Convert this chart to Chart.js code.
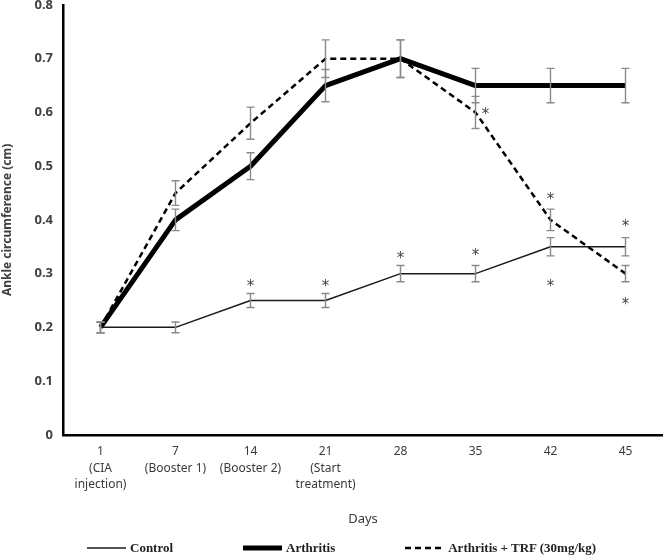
<!DOCTYPE html>
<html>
<head>
<meta charset="utf-8">
<script src="https://cdn.jsdelivr.net/npm/chart.js@4"></script>
<style>
  body { margin: 0; background: #fff; }
  .wrap { position: relative; width: 663px; height: 557px; }
  .legend { position: absolute; left: 87px; top: 540px; display: flex; gap: 70px;
            font: bold 13px "Liberation Serif", serif; color: #222; }
  .legend div { display: flex; align-items: center; gap: 4px; line-height: 16px; }
</style>
</head>
<body>
<div class="wrap">
  <canvas id="chart" width="663" height="557"></canvas>
  <div class="legend"></div>
</div>
<script>
const days = [
    ["1", "(CIA", "injection)"],
    ["7", "(Booster 1)"],
    ["14", "(Booster 2)"],
    ["21", "(Start", "treatment)"],
    "28", "35", "42", "45",
];

const control = [0.2, 0.2, 0.25, 0.25, 0.3, 0.3, 0.35, 0.35];
const arthritis = [0.2, 0.4, 0.5, 0.65, 0.7, 0.65, 0.65, 0.65];
const trf = [0.2, 0.45, 0.58, 0.7, 0.7, 0.6, 0.4, 0.3];

// +/- error for each point
const controlErr = [0.01, 0.01, 0.013, 0.013, 0.015, 0.015, 0.017, 0.017];
const arthritisErr = [0.01, 0.02, 0.025, 0.03, 0.035, 0.032, 0.032, 0.032];
const trfErr = [0.01, 0.023, 0.03, 0.035, 0.035, 0.03, 0.02, 0.015];

// significance asterisks (day index, y value)
const starIdx = [2, 3, 4, 5, 5, 6, 6, 7, 7];
const starVal = [0.281, 0.281, 0.333, 0.338, 0.6, 0.442, 0.281, 0.393, 0.247];
const starSide = ["c", "c", "c", "c", "r", "c", "c", "c", "c"];

const errorBars = {
    id: "errorBars",
    afterDatasetsDraw(chart) {
        const { ctx, scales: { x, y } } = chart;
        const errs = [controlErr, arthritisErr, trfErr];
        ctx.save();
        ctx.strokeStyle = "#8a8a8a";
        ctx.lineWidth = 1.4;
        chart.data.datasets.forEach((ds, i) => {
            ds.data.forEach((v, j) => {
                const px = x.getPixelForValue(j);
                const top = y.getPixelForValue(v + errs[i][j]);
                const bot = y.getPixelForValue(v - errs[i][j]);
                ctx.beginPath();
                ctx.moveTo(px, top); ctx.lineTo(px, bot);
                ctx.moveTo(px - 4, top); ctx.lineTo(px + 4, top);
                ctx.moveTo(px - 4, bot); ctx.lineTo(px + 4, bot);
                ctx.stroke();
            });
        });
        ctx.restore();
    },
};

const stars = {
    id: "stars",
    afterDatasetsDraw(chart) {
        const { ctx, scales: { x, y } } = chart;
        ctx.save();
        ctx.fillStyle = "#444";
        ctx.font = "15px 'DejaVu Sans'";
        ctx.textAlign = "center";
        ctx.textBaseline = "middle";
        starIdx.forEach((idx, k) => {
            const px = x.getPixelForValue(idx) + (starSide[k] === "r" ? 10 : 0);
            ctx.fillText("*", px, y.getPixelForValue(starVal[k]) + 3);
        });
        ctx.restore();
    },
};

const chart = new Chart(document.getElementById("chart"), {
    type: "line",
    data: {
        labels: days,
        datasets: [
            { label: "Control", data: control, borderColor: "#1a1a1a", borderWidth: 1.5 },
            { label: "Arthritis", data: arthritis, borderColor: "#000", borderWidth: 5 },
            { label: "Arthritis + TRF (30mg/kg)", data: trf, borderColor: "#000", borderWidth: 2.5, borderDash: [6, 4] },
        ],
    },
    options: {
        responsive: false,
        animation: false,
        layout: { padding: { top: 5, bottom: 26 } },
        plugins: { legend: { display: false }, tooltip: { enabled: false } },
        elements: { point: { radius: 0 }, line: { borderJoinStyle: "round", tension: 0 } },
        scales: {
            x: {
                offset: true,
                grid: { display: false, drawTicks: false },
                border: { color: "#000", width: 2.5 },
                ticks: { color: "#3a3a3a", padding: 9, maxRotation: 0, autoSkip: false,
                         font: { family: "Noto Sans", size: 12, lineHeight: 1.35 } },
                title: { display: true, text: "Days", color: "#3a3a3a", padding: { top: 10, bottom: 4 },
                         font: { family: "Noto Sans", size: 13 } },
            },
            y: {
                min: 0,
                max: 0.8,
                grid: { display: false, drawTicks: false },
                border: { color: "#000", width: 2.5 },
                ticks: { stepSize: 0.1, color: "#404040", padding: 10,
                         font: { family: "Noto Sans", size: 13, weight: "bold" },
                         callback: v => +v.toFixed(1) },
                title: { display: true, text: "Ankle circumference (cm)", color: "#404040", padding: 0,
                         font: { family: "Noto Sans", size: 12, weight: "bold" } },
                afterFit: s => { s.width = 63; s.paddingTop = 0; s.paddingBottom = 0; },
            },
        },
    },
    plugins: [errorBars, stars],
});

// html legend from the datasets
const legend = document.querySelector(".legend");
chart.data.datasets.forEach(ds => {
    const item = document.createElement("div");
    const dash = ds.borderDash ? ds.borderDash.join(",") : "none";
    item.innerHTML = `<svg width="39" height="8"><line x1="0" y1="4" x2="39" y2="4" stroke="${ds.borderColor}" stroke-width="${ds.borderWidth}" stroke-dasharray="${dash}"/></svg><span>${ds.label}</span>`;
    legend.appendChild(item);
});
</script>
</body>
</html>
